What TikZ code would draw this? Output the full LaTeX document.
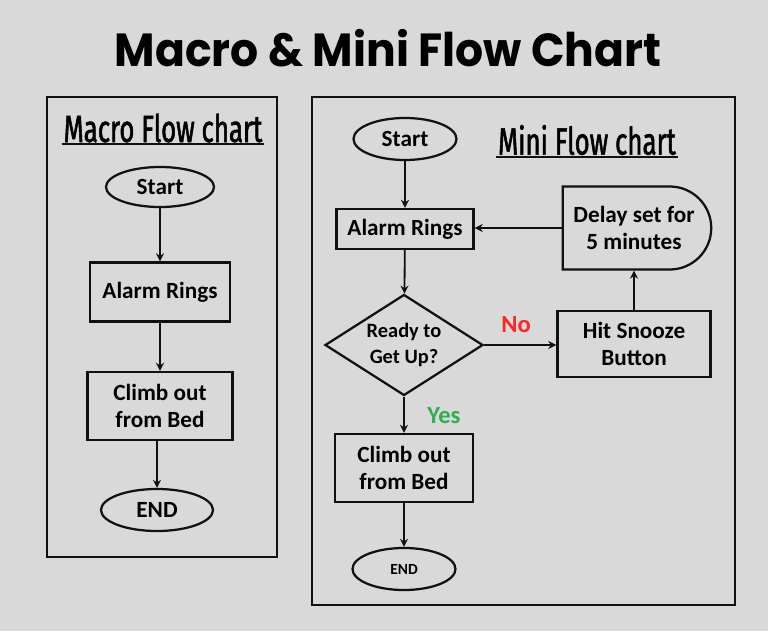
\documentclass[tikz,border=0pt]{standalone}
\usepackage{fontspec}
\setmainfont{Carlito}
\newfontfamily\titlefont[FakeStretch=0.95]{Poppins}
\newfontfamily\narrowfont[FakeStretch=0.68,FakeBold=1.4]{Fira Sans}
\usetikzlibrary{arrows.meta,positioning,shapes.geometric,shapes.misc}
\definecolor{bggray}  {HTML}{D9D9D9}
\definecolor{ink}     {HTML}{111111}
\definecolor{nored}   {HTML}{FF2626}
\definecolor{yesgreen}{HTML}{2EAF50}
\tikzset{
  framebox/.style  ={draw=ink, line width=1.7pt, inner sep=0pt},
  procbox/.style   ={draw=ink, line width=1.7pt, align=center, inner sep=2pt,
                     font=\fontsize{16.5}{19}\selectfont\bfseries},
  termnode/.style  ={ellipse, draw=ink, line width=1.6pt, inner sep=0pt,
                     font=\fontsize{16.5}{19}\selectfont\bfseries},
  decnode/.style   ={diamond, draw=ink, line width=1.6pt, aspect=1.56, inner sep=0pt,
                     align=center, font=\fontsize{14.5}{18}\selectfont\bfseries},
  delaynode/.style ={rounded rectangle, rounded rectangle left arc=none, draw=ink,
                     line width=1.6pt, align=center, inner sep=2pt,
                     font=\fontsize{16.5}{19}\selectfont\bfseries},
  subhead/.style   ={font=\narrowfont\fontsize{27}{29}\selectfont, inner sep=1pt},
  flowarr/.style   ={-{Stealth[length=2mm,width=2mm]}, line width=1.3pt, draw=ink},
  anslabel/.style  ={font=\fontsize{17.5}{20}\selectfont\bfseries},
}
\begin{document}
\begin{tikzpicture}[x=0.025cm,y=-0.025cm]
    \fill[bggray] (0,0) rectangle (768,631);
    \useasboundingbox (0,0) rectangle (768,631);

    \node[font=\titlefont\bfseries\fontsize{33}{36}\selectfont] (title) at (388,48) {Macro \& Mini Flow Chart};

    % macro chart
    \node[framebox, minimum width=5.75cm, minimum height=11.5cm] (macroframe) at (162,327) {};
    \node[subhead] (macrohead) at (163,128) {Macro Flow chart};
    \draw[line width=1.2pt, draw=ink] (macrohead.south west) -- (macrohead.south east);

    \node[termnode, minimum width=2.7cm, minimum height=1.0cm] (mstart) at (160,187) {Start};
    \node[procbox, minimum width=3.5cm, minimum height=1.475cm] (malarm) at (160,292) {Alarm Rings};
    \node[procbox, minimum width=3.625cm, minimum height=1.7cm] (mclimb) at (160,406) {Climb out\\from Bed};
    \node[termnode, minimum width=2.8cm, minimum height=1.05cm] (mend) at (157,510) {END};

    \draw[flowarr] (mstart) -- (malarm);
    \draw[flowarr] (malarm) -- (mclimb);
    \draw[flowarr] (mclimb.south -| mend) -- (mend);

    % mini chart
    \node[framebox, minimum width=10.575cm, minimum height=12.7cm] (miniframe) at (523.5,351) {};
    \node[subhead] (minihead) at (587,140) {Mini Flow chart};
    \draw[line width=1.2pt, draw=ink] (minihead.south west) -- (minihead.south east);

    \node[termnode, minimum width=2.575cm, minimum height=1.05cm] (nstart) at (405,139) {Start};
    \node[procbox, minimum width=3.425cm, minimum height=1.0cm] (nalarm) at (405,229) {Alarm Rings};
    \node[decnode, minimum width=3.95cm, minimum height=2.525cm] (nready) at (404,345) {Ready to\\Get Up?};
    \node[procbox, minimum width=3.825cm, minimum height=1.65cm] (nsnooze) at (634,344) {Hit Snooze\\Button};
    \node[delaynode, minimum width=3.85cm, minimum height=2.075cm] (ndelay) at (634,228) {Delay set for\\5 minutes};
    \node[procbox, minimum width=3.45cm, minimum height=1.7cm] (nclimb) at (404,468) {Climb out\\from Bed};
    \node[termnode, minimum width=2.575cm, minimum height=1.05cm,
          font=\fontsize{11}{13}\selectfont\bfseries] (nend) at (404,569) {END};

    \draw[flowarr] (nstart) -- (nalarm);
    \draw[flowarr] (nalarm) -- (nready);
    \draw[flowarr] (nready.east) -- (nready.east -| nsnooze.west);
    \draw[flowarr] (nsnooze) -- (ndelay);
    \draw[flowarr] (ndelay.west) -- (ndelay.west -| nalarm.east);
    \draw[flowarr] (nready) -- (nclimb);
    \draw[flowarr] (nclimb) -- (nend);

    \node[anslabel, text=nored] (nolabel) at (516,325) {No};
    \node[anslabel, text=yesgreen] (yeslabel) at (444,416) {Yes};
  \end{tikzpicture}
\end{document}
